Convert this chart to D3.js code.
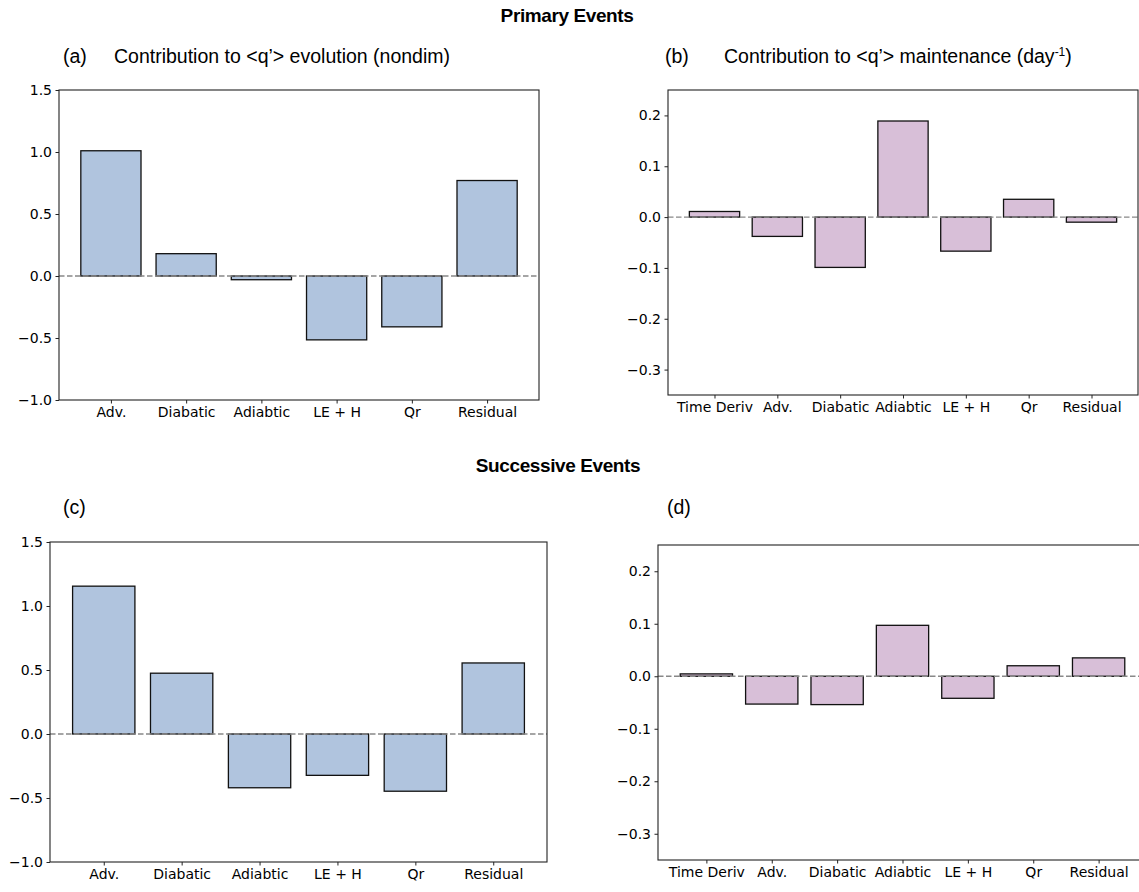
<!DOCTYPE html>
<html>
<head>
<meta charset="utf-8">
<script src="https://cdn.jsdelivr.net/npm/d3@7"></script>
<style>
  body { margin: 0; background: #fff; }
  svg { display: block; }
  .tick text { font-family: "DejaVu Sans", sans-serif; font-size: 14px; fill: #000; }
  .title { font-family: "Liberation Sans", Arial, sans-serif; fill: #000; }
  .suptitle { font-family: "Liberation Sans", Arial, sans-serif; font-weight: bold; letter-spacing: -0.4px; fill: #000; }
</style>
</head>
<body>
<svg id="chart" width="1139" height="892"></svg>
<script>
// categories
let termsShort = ["Adv.", "Diabatic", "Adiabtic", "LE + H", "Qr", "Residual"];
let termsLong = ["Time Deriv", "Adv.", "Diabatic", "Adiabtic", "LE + H", "Qr", "Residual"];

// values
let primaryEvolution = [1.01, 0.18, -0.03, -0.515, -0.41, 0.77];
let primaryMaintenance = [0.011, -0.038, -0.099, 0.189, -0.067, 0.035, -0.01];
let successiveEvolution = [1.155, 0.475, -0.42, -0.323, -0.447, 0.555];
let successiveMaintenance = [0.0045, -0.053, -0.054, 0.097, -0.042, 0.02, 0.035];

// y ticks
let evolutionTicks = [-1.0, -0.5, 0.0, 0.5, 1.0, 1.5];
let maintenanceTicks = [-0.3, -0.2, -0.1, 0.0, 0.1, 0.2];

let blue = "#b0c4de", pink = "#d8bfd8";

let svg = d3.select("#chart");

let panels = [
  { letter: "(a)", title: "Contribution to <q\u2019> evolution (nondim)", names: termsShort, values: primaryEvolution,
    ticks: evolutionTicks, domain: [-1, 1.5], color: blue, x0: 59, x1: 539, y0: 90, y1: 400, lx: 63, tx: 114, ly: 63 },
  { letter: "(b)", title: "maintenance", names: termsLong, values: primaryMaintenance,
    ticks: maintenanceTicks, domain: [-0.35, 0.25], color: pink, x0: 668, x1: 1138, y0: 90, y1: 395, lx: 665, tx: 724, ly: 63 },
  { letter: "(c)", title: null, names: termsShort, values: successiveEvolution,
    ticks: evolutionTicks, domain: [-1, 1.5], color: blue, x0: 50, x1: 547, y0: 542, y1: 862, lx: 63, ly: 514 },
  { letter: "(d)", title: null, names: termsLong, values: successiveMaintenance,
    ticks: maintenanceTicks, domain: [-0.35, 0.25], color: pink, x0: 658, x1: 1147, y0: 545, y1: 860, lx: 667, ly: 514 }
];

// super titles
svg.append("text").attr("class", "suptitle")
  .attr("x", 567).attr("y", 22)
  .attr("text-anchor", "middle")
  .style("font-size", "19px")
  .text("Primary Events");

svg.append("text").attr("class", "suptitle")
  .attr("x", 558).attr("y", 472)
  .attr("text-anchor", "middle")
  .style("font-size", "19px")
  .text("Successive Events");

panels.forEach(function (p) {
  let n = p.names.length;
  let pad = 0.4 + 0.05 * (n - 0.2); // matplotlib-like margins
  let x = d3.scaleLinear().domain([-pad, n - 1 + pad]).range([p.x0, p.x1]);
  let y = d3.scaleLinear().domain(p.domain).range([p.y1, p.y0]);

  let g = svg.append("g");

  // bars
  g.selectAll("rect.bar")
    .data(p.values)
    .join("rect")
    .attr("class", "bar")
    .attr("x", function (d, i) { return x(i - 0.4); })
    .attr("width", x(0.4) - x(-0.4))
    .attr("y", function (d) { return y(Math.max(0, d)); })
    .attr("height", function (d) { return Math.abs(y(d) - y(0)); })
    .attr("fill", p.color)
    .attr("stroke", "#111")
    .attr("stroke-width", 1.3);

  // zero line
  g.append("line")
    .attr("x1", p.x0).attr("x2", p.x1)
    .attr("y1", y(0)).attr("y2", y(0))
    .attr("stroke", "#888")
    .attr("stroke-width", 1.3)
    .attr("stroke-dasharray", "5.5,2.5");

  // frame
  g.append("rect")
    .attr("x", p.x0).attr("y", p.y0)
    .attr("width", p.x1 - p.x0).attr("height", p.y1 - p.y0)
    .attr("fill", "none")
    .attr("stroke", "#222")
    .attr("stroke-width", 1.1);

  // axes
  let yAxis = d3.axisLeft(y).tickValues(p.ticks).tickFormat(d3.format(".1f"))
    .tickSize(3.5).tickPadding(3.5).tickSizeOuter(0);
  g.append("g").attr("transform", "translate(" + p.x0 + ",0)").call(yAxis)
    .call(function (s) { s.select(".domain").remove(); });

  let xAxis = d3.axisBottom(x).tickValues(d3.range(n)).tickFormat(function (i) { return p.names[i]; })
    .tickSize(3.5).tickPadding(3.5).tickSizeOuter(0);
  g.append("g").attr("transform", "translate(0," + p.y1 + ")").call(xAxis)
    .call(function (s) { s.select(".domain").remove(); });

  g.selectAll(".tick line").attr("stroke", "#222");

  // panel label and title
  g.append("text").attr("class", "title")
    .attr("x", p.lx).attr("y", p.ly)
    .style("font-size", "19.5px")
    .text(p.letter);

  if (p.title === "maintenance") {
    let t = g.append("text").attr("class", "title")
      .attr("x", p.tx).attr("y", p.ly)
      .style("font-size", "19.5px");
    t.append("tspan").text("Contribution to <q\u2019> maintenance (day");
    t.append("tspan").attr("dy", -7).style("font-size", "12px").text("-1");
    t.append("tspan").attr("dy", 7).text(")");
  } else if (p.title) {
    g.append("text").attr("class", "title")
      .attr("x", p.tx).attr("y", p.ly)
      .style("font-size", "19.5px")
      .text(p.title);
  }
});
</script>
</body>
</html>
